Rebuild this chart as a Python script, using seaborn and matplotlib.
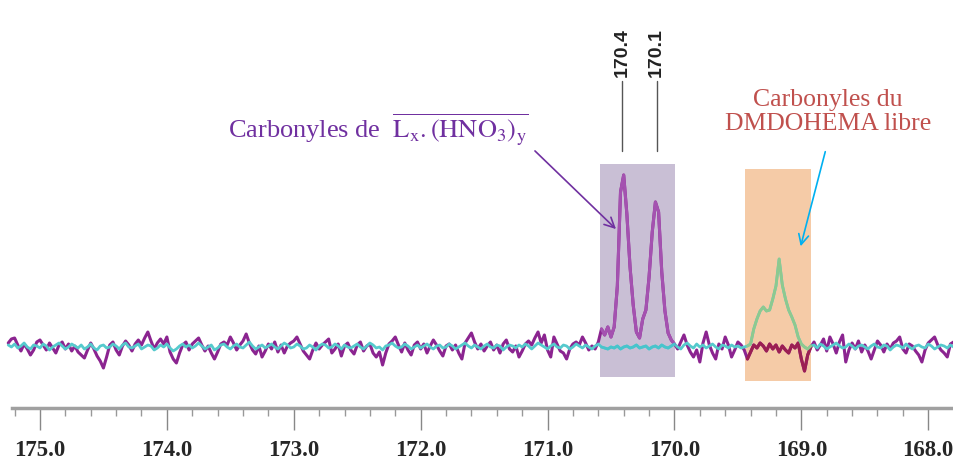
import numpy as np
import pandas as pd
import matplotlib
matplotlib.use("Agg")
import matplotlib.pyplot as plt
import seaborn as sns
from matplotlib.patches import Rectangle
from matplotlib.ticker import MultipleLocator, FormatStrFormatter

# =========================
# data (intensity in arbitrary units, baseline = 0)
# =========================
ppm_start, ppm_step = 175.25, 0.025

purple = [
    4, 8, 9, 2, -4, 3, -2, -8, -3, 5,
    7, 2, -3, 4, -1, -6, 2, 5, -2, 3,
    -4, 1, -5, -8, -11, -3, 4, -2, -9, -14,
    -21, -10, 2, 5, -3, -8, 1, 6, 2, -4,
    3, 7, 2, 9, 15, 6, -2, 4, 8, 3,
    10, -5, -12, -16, -6, 2, 5, -3, 3, 6,
    9, 2, -4, 1, -6, -12, -5, 3, 5, 2,
    10, 4, -3, 2, 6, 13, 4, -3, -7, 1,
    -10, -4, 3, -2, 5, -5, 2, -6, 1, 4,
    6, 10, 3, -4, -8, -12, -3, 4, -2, 2,
    5, 8, -6, -2, 3, -9, 1, 4, -3, -7,
    2, 5, -4, 1, 3, -6, -10, -5, -18, -6,
    3, 6, 10, 2, -5, 4, -3, -8, 2, 5,
    -2, 3, -6, 1, 7, 2, -4, -9, 1, 3,
    -3, 2, -6, -12, 4, 9, 14, 5, -2, 3,
    -4, 1, 5, -3, 2, -6, 3, 7, -2, -5,
    1, -10, -4, 3, 6, 2, 9, 15, 4, 12,
    -3, -10, 10, 3, -4, -6, -12, -2, 3, 5,
    2, 10, 4, -3, 1, -2, 5, 18, 12, 20,
    10, 20, 61, 155, 172, 133, 80, 42, 15, 9,
    28, 37, 70, 115, 145, 135, 75, 36, 14, 7,
    3, -2, 5, 12, 2, -5, -10, -3, -15, 4,
    15, 2, -6, -12, 3, -2, 10, 2, -10, -3,
    5, 2, -3, -12, -5, 2, -1, 4, 1, -4,
    3, -2, 2, -5, 1, -3, -6, 2, -1, 4,
    -12, -24, -8, 0, 5, -3, 2, 8, -4, 10,
    3, -6, 5, 12, -15, -3, 4, -2, 6, -5,
    2, -4, -12, -3, 6, 2, -5, 3, -2, 4,
    6, 10, -2, -6, 3, 1, -4, -8, -15, -3,
    4, 7, 10, 2, -3, -6, -10, 3, 5,
]

cyan = [
    2, 0, 3, -1, 1, 4, 0, -2, 2, 1,
    -1, 3, 1, -3, 0, 2, 4, 1, -2, 0,
    3, 1, -1, 2, -2, 0, 3, -1, -3, 1,
    2, -1, 0, 3, 1, -2, 2, 4, 0, -1,
    1, 3, -2, 0, 2, 1, -3, -1, 2, 0,
    3, -1, -4, -2, 1, 3, 0, 2, -1, 1,
    4, 1, -2, 0, 2, -3, -1, 2, 3, 0,
    -2, 1, 3, 0, -1, 2, 5, 1, -2, 0,
    2, -1, 1, 3, 0, -2, 1, 4, 2, -1,
    0, 3, 1, -2, -1, 2, 0, -3, 1, 3,
    2, -1, 0, 3, 1, -2, 2, 0, -1, 1,
    3, 0, -2, 1, 4, 2, -1, 0, -3, 1,
    2, 4, 1, -1, 0, 3, 1, -2, 0, 2,
    -1, 1, 3, 0, -2, 1, 2, -1, 0, 3,
    1, -2, 0, 2, 4, 1, -1, 2, 0, -2,
    1, 3, 0, -1, 2, 1, -3, 0, 2, 1,
    -1, 2, 0, 3, 1, -2, 1, 4, 2, 0,
    -2, 1, 3, 0, -1, 2, 1, -2, 0, 3,
    1, -1, 2, 0, -2, 1, 3, 0, -1, -2,
    0, -1, 1, -2, 0, 1, -1, 0, 2, -1,
    0, 1, -2, 0, 1, -1, 2, 0, -1, 1,
    3, 0, -2, 2, 4, 1, -1, 3, 0, 2,
    -1, 1, 3, 0, -2, 2, 1, -1, 2, 0,
    1, -1, 0, 1, 3, 18, 28, 36, 40, 36,
    37, 48, 61, 88, 62, 48, 37, 30, 22, 10,
    3, 0, -2, 1, 2, -1, 3, 1, -2, 0,
    2, 4, 1, -1, 0, 3, 1, -2, 1, 2,
    0, -2, 1, 3, 0, -1, 2, 1, -3, 0,
    2, 1, -1, 3, 0, -2, 1, 2, 0, -1,
    3, 1, -2, 0, 2, 1, -1, 2, 0,
]

peak_pos = [170.41, 170.14]
peak_labels = ["170.4", "170.1"]

# highlighted zones (ppm ranges)
zone_complex = (169.996, 170.587)
zone_free = (168.924, 169.444)

ppm = ppm_start - ppm_step * np.arange(len(purple))
df = pd.DataFrame({"ppm": ppm, "purple": purple, "cyan": cyan})

# =========================
# plot
# =========================
sns.set_theme(style="white")
plt.rcParams["font.family"] = ["Liberation Serif", "DejaVu Serif"]
plt.rcParams["mathtext.fontset"] = "stix"

fig = plt.figure(figsize=(9.54, 4.64), dpi=100)
ax = fig.add_axes([0, 0, 1, 1])

ax.add_patch(Rectangle((zone_complex[0], -30), zone_complex[1] - zone_complex[0], 213,
                       facecolor="#c9bfd5", edgecolor="none", zorder=1))
ax.add_patch(Rectangle((zone_free[0], -34), zone_free[1] - zone_free[0], 212,
                       facecolor="#f5cba7", edgecolor="none", zorder=1))

sns.lineplot(data=df, x="ppm", y="purple", color="#8b2490", lw=2.2, ax=ax, zorder=2)
sns.lineplot(data=df, x="ppm", y="cyan", color="#55cacd", lw=2.0, ax=ax, zorder=2.5)

# traces seen through the coloured zones
in_c = df[(df.ppm >= zone_complex[0]) & (df.ppm <= zone_complex[1])]
in_f = df[(df.ppm >= zone_free[0]) & (df.ppm <= zone_free[1])]
sns.lineplot(data=in_c, x="ppm", y="purple", color="#a452b0", lw=2.2, ax=ax, zorder=3)
sns.lineplot(data=in_c, x="ppm", y="cyan", color="#48c4cc", lw=2.0, ax=ax, zorder=3.5)
sns.lineplot(data=in_f, x="ppm", y="purple", color="#9c1f52", lw=2.2, ax=ax, zorder=3)
sns.lineplot(data=in_f, x="ppm", y="cyan", color="#8ec98e", lw=2.0, ax=ax, zorder=3.5)

# peak picking labels
for p, lab in zip(peak_pos, peak_labels):
    ax.plot([p, p], [196, 266], color="#555555", lw=1)
    ax.text(p, 295, lab, rotation=90, ha="center", va="center", fontsize=14,
            fontweight="bold", family=["Liberation Sans", "DejaVu Sans"], color="#222222")

# annotations
ax.text(173.519, 210, r"Carbonyles de  $\overline{\mathrm{L_x.(HNO_3)_y}}$",
        color="#7030a0", fontsize=19, ha="left", va="baseline")
ax.annotate("", xy=(170.445, 116), xytext=(171.115, 198),
            arrowprops=dict(arrowstyle="->", color="#7030a0", lw=1.2, mutation_scale=18))

ax.text(168.79, 236, "Carbonyles du\nDMDOHEMA libre", color="#c0504d", fontsize=18.5,
        ha="center", va="center", multialignment="center", linespacing=1.15)
ax.annotate("", xy=(169.011, 98), xytext=(168.806, 198),
            arrowprops=dict(arrowstyle="->", color="#00b0f0", lw=1.2, mutation_scale=18))

# axis
ax.set_xlim(175.315, 167.797)
ax.set_ylim(-116, 348)
for s in ["top", "left", "right"]:
    ax.spines[s].set_visible(False)
ax.spines["bottom"].set_position(("data", -61))
ax.spines["bottom"].set_bounds(167.82, 175.22)
ax.spines["bottom"].set_color("#a0a0a0")
ax.spines["bottom"].set_linewidth(2.5)
ax.set_yticks([])
ax.xaxis.set_major_locator(MultipleLocator(1.0))
ax.xaxis.set_minor_locator(MultipleLocator(0.2))
ax.xaxis.set_major_formatter(FormatStrFormatter("%.1f"))
ax.tick_params(axis="x", which="major", direction="out", length=16, width=1,
               color="#888888", pad=6, labelsize=16.5, bottom=True)
ax.tick_params(axis="x", which="minor", direction="out", length=6, width=1,
               color="#999999", bottom=True)
for t in ax.get_xticklabels():
    t.set_fontweight("bold")
ax.set_xlabel("")
ax.set_ylabel("")
ax.grid(False)

fig.savefig("out.png", dpi=100)
